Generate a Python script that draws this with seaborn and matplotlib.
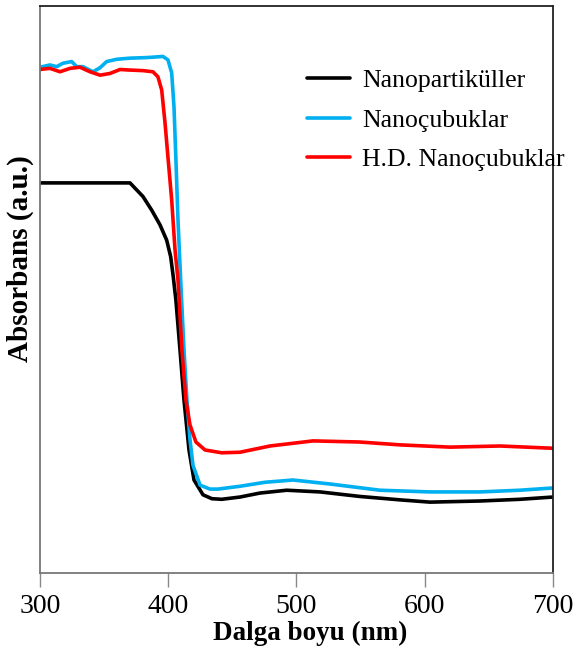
import matplotlib
matplotlib.use("Agg")
import matplotlib.pyplot as plt
import seaborn as sns

# wavelength (nm) and absorbance (a.u.)
wl_np = [300, 370.2, 380.3, 387.1, 393.6, 398.8, 401.9, 403.9, 406.0, 409.2, 412.3,
         416.2, 420.1, 427.1, 434.1, 441.7, 456, 471.5, 492.4, 518.4, 549.5, 580.7,
         604.1, 643.1, 674.3, 700]
abs_np = [0.688, 0.688, 0.664, 0.640, 0.614, 0.587, 0.558, 0.523, 0.481, 0.393, 0.305,
          0.217, 0.164, 0.138, 0.131, 0.130, 0.134, 0.141, 0.146, 0.143, 0.135, 0.129,
          0.125, 0.127, 0.130, 0.134]

wl_nc = [300, 307.8, 313.0, 317.9, 324.7, 328.6, 333.5, 341.3, 346.8, 352.0, 359.8,
         370.2, 383.2, 395.9, 399.8, 402.7, 404.5, 406.0, 407.6, 409.7, 412.3, 414.6,
         417.0, 419.3, 424.8, 432.6, 438.8, 456, 475.4, 497.3, 526.1, 565.1, 604.1,
         643.1, 674.3, 700]
abs_nc = [0.892, 0.896, 0.893, 0.899, 0.902, 0.893, 0.893, 0.884, 0.891, 0.902, 0.906,
          0.908, 0.909, 0.911, 0.905, 0.882, 0.822, 0.729, 0.623, 0.517, 0.393, 0.305,
          0.235, 0.190, 0.155, 0.148, 0.148, 0.153, 0.160, 0.164, 0.157, 0.146, 0.143,
          0.143, 0.146, 0.150]

wl_hd = [300, 307.8, 315.6, 323.4, 331.2, 339.0, 346.8, 354.6, 362.4, 370.2, 380.3,
         388.1, 392.0, 394.9, 397.5, 400.0, 402.7, 405.3, 407.6, 410.7, 413.8, 417.0,
         421.6, 428.7, 441.7, 456, 479.3, 512.9, 549.5, 580.7, 619.7, 658.7, 700]
abs_hd = [0.888, 0.890, 0.884, 0.890, 0.892, 0.884, 0.878, 0.881, 0.888, 0.887, 0.886,
          0.884, 0.875, 0.852, 0.794, 0.728, 0.658, 0.570, 0.517, 0.393, 0.305, 0.261,
          0.231, 0.217, 0.212, 0.213, 0.224, 0.233, 0.231, 0.226, 0.222, 0.224, 0.220]

labels = ["Nanopartiküller", "Nanoçubuklar", "H.D. Nanoçubuklar"]
colors = ["black", "#00B0F0", "#FF0000"]
xticks = [300, 400, 500, 600, 700]

sns.set_style("white")
plt.rcParams["font.family"] = ["Liberation Serif", "DejaVu Serif"]
plt.rcParams["text.color"] = "black"
plt.rcParams["axes.labelcolor"] = "black"
plt.rcParams["xtick.color"] = "black"

fig = plt.figure(figsize=(5.76, 6.51), dpi=100)
ax = fig.add_axes([0.0694, 0.1198, 0.8906, 0.871])

for wl, ab, lab, col in zip([wl_np, wl_nc, wl_hd], [abs_np, abs_nc, abs_hd], labels, colors):
    sns.lineplot(x=wl, y=ab, ax=ax, color=col, linewidth=2.6, label=lab,
                 sort=False, estimator=None)

ax.set_xlim(300, 700)
ax.set_ylim(0, 1)
ax.set_xticks(xticks)
ax.set_yticks([])
ax.tick_params(axis="x", direction="out", length=10, width=1, color="#888888",
               labelsize=20, labelcolor="black", pad=5, bottom=True)
for side in ["left", "bottom"]:
    ax.spines[side].set_color("#777777")
for side in ["top", "right"]:
    ax.spines[side].set_color("#222222")
for sp in ax.spines.values():
    sp.set_linewidth(1.3)

ax.set_xlabel("Dalga boyu (nm)", fontsize=19.5, fontweight="bold")
ax.set_ylabel("Absorbans (a.u.)", fontsize=21, fontweight="bold")
ax.xaxis.set_label_coords(0.526, -0.084)
ax.yaxis.set_label_coords(-0.012, 0.554)

ax.legend(loc="upper left", bbox_to_anchor=(0.52, 0.888), frameon=False, fontsize=18.5,
          handlelength=1.67, handletextpad=0.5, labelspacing=0.63, borderpad=0,
          borderaxespad=0)

fig.savefig("out.png", dpi=100)
